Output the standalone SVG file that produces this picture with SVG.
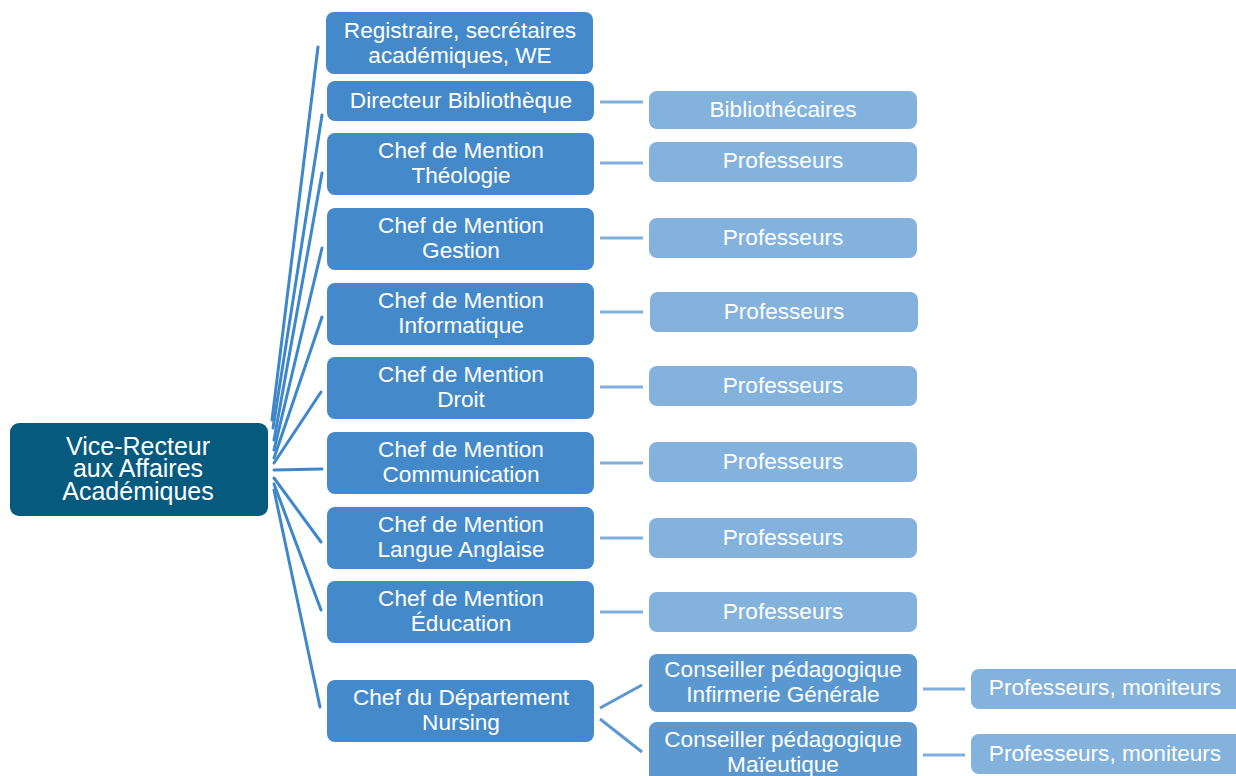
<svg xmlns="http://www.w3.org/2000/svg" width="1236" height="776" viewBox="0 0 1236 776">
<style>
text{font-family:"Liberation Sans",Arial,sans-serif;font-size:22.6px;fill:#fff;text-anchor:middle}
.big{font-size:25px}
.root{fill:#065a7e}
.l1{fill:#448aca}
.l2{fill:#83b2dd}
.cs{fill:#5a98cf}
.fan{stroke:#3f87cb;stroke-width:3;fill:none;stroke-linecap:round}
.sub{stroke:#7fb0dd;stroke-width:3;fill:none}
.sub2{stroke:#5a98cf;stroke-width:3;fill:none}
</style>
<rect width="1236" height="776" fill="#fff"/>
<g id="connectors">
<line class="fan" x1="272" y1="420" x2="318" y2="47"/>
<line class="fan" x1="273" y1="428" x2="322" y2="115"/>
<line class="fan" x1="274" y1="440" x2="322" y2="173"/>
<line class="fan" x1="274" y1="450" x2="322" y2="248"/>
<line class="fan" x1="274" y1="458" x2="322" y2="317"/>
<line class="fan" x1="274" y1="463" x2="321" y2="392"/>
<line class="fan" x1="274" y1="470" x2="322" y2="469"/>
<line class="fan" x1="274" y1="478" x2="321" y2="542"/>
<line class="fan" x1="274" y1="484" x2="321" y2="610"/>
<line class="fan" x1="274" y1="490" x2="320" y2="707"/>
<line class="sub" x1="600" y1="102" x2="643" y2="102"/>
<line class="sub" x1="600" y1="163" x2="643" y2="163"/>
<line class="sub" x1="600" y1="238" x2="643" y2="238"/>
<line class="sub" x1="600" y1="312" x2="643" y2="312"/>
<line class="sub" x1="600" y1="387" x2="643" y2="387"/>
<line class="sub" x1="600" y1="463" x2="643" y2="463"/>
<line class="sub" x1="600" y1="538" x2="643" y2="538"/>
<line class="sub" x1="600" y1="612" x2="643" y2="612"/>
<line class="sub2" x1="600" y1="708" x2="642" y2="685"/>
<line class="sub2" x1="600" y1="719" x2="642" y2="752"/>
<line class="sub" x1="923" y1="689" x2="965" y2="689"/>
<line class="sub" x1="923" y1="755" x2="965" y2="755"/>
</g>
<g id="n-root"><rect class="root" x="10" y="423" width="258" height="93" rx="9"/>
<text class="big" x="138" y="455">Vice-Recteur</text><text class="big" x="138" y="477">aux Affaires</text><text class="big" x="138" y="500">Académiques</text></g>
<g id="n-registraire"><rect class="l1" x="326" y="12" width="267" height="62" rx="8"/>
<text x="460" y="38">Registraire, secrétaires</text><text x="460" y="63">académiques, WE</text></g>
<g id="n-directeur"><rect class="l1" x="327" y="81" width="267" height="40" rx="8"/>
<text x="461" y="108">Directeur Bibliothèque</text></g>
<g id="n-theologie"><rect class="l1" x="327" y="133" width="267" height="62" rx="8"/>
<text x="461" y="158">Chef de Mention</text><text x="461" y="183">Théologie</text></g>
<g id="n-gestion"><rect class="l1" x="327" y="208" width="267" height="62" rx="8"/>
<text x="461" y="233">Chef de Mention</text><text x="461" y="258">Gestion</text></g>
<g id="n-informatique"><rect class="l1" x="327" y="283" width="267" height="62" rx="8"/>
<text x="461" y="308">Chef de Mention</text><text x="461" y="333">Informatique</text></g>
<g id="n-droit"><rect class="l1" x="327" y="357" width="267" height="62" rx="8"/>
<text x="461" y="382">Chef de Mention</text><text x="461" y="407">Droit</text></g>
<g id="n-communication"><rect class="l1" x="327" y="432" width="267" height="62" rx="8"/>
<text x="461" y="457">Chef de Mention</text><text x="461" y="482">Communication</text></g>
<g id="n-langue"><rect class="l1" x="327" y="507" width="267" height="62" rx="8"/>
<text x="461" y="532">Chef de Mention</text><text x="461" y="557">Langue Anglaise</text></g>
<g id="n-education"><rect class="l1" x="327" y="581" width="267" height="62" rx="8"/>
<text x="461" y="606">Chef de Mention</text><text x="461" y="631">Éducation</text></g>
<g id="n-nursing"><rect class="l1" x="327" y="680" width="267" height="62" rx="8"/>
<text x="461" y="705">Chef du Département</text><text x="461" y="730">Nursing</text></g>
<g id="n-bibliothecaires"><rect class="l2" x="649" y="91" width="268" height="38" rx="8"/>
<text x="783" y="117">Bibliothécaires</text></g>
<g id="n-prof-theo"><rect class="l2" x="649" y="142" width="268" height="40" rx="8"/>
<text x="783" y="168">Professeurs</text></g>
<g id="n-prof-gest"><rect class="l2" x="649" y="218" width="268" height="40" rx="8"/>
<text x="783" y="245">Professeurs</text></g>
<g id="n-prof-info"><rect class="l2" x="650" y="292" width="268" height="40" rx="8"/>
<text x="784" y="319">Professeurs</text></g>
<g id="n-prof-droit"><rect class="l2" x="649" y="366" width="268" height="40" rx="8"/>
<text x="783" y="393">Professeurs</text></g>
<g id="n-prof-comm"><rect class="l2" x="649" y="442" width="268" height="40" rx="8"/>
<text x="783" y="469">Professeurs</text></g>
<g id="n-prof-langue"><rect class="l2" x="649" y="518" width="268" height="40" rx="8"/>
<text x="783" y="545">Professeurs</text></g>
<g id="n-prof-edu"><rect class="l2" x="649" y="592" width="268" height="40" rx="8"/>
<text x="783" y="619">Professeurs</text></g>
<g id="n-conseiller-ig"><rect class="cs" x="649" y="654" width="268" height="58" rx="8"/>
<text x="783" y="677">Conseiller pédagogique</text><text x="783" y="702">Infirmerie Générale</text></g>
<g id="n-conseiller-mai"><rect class="cs" x="649" y="722" width="268" height="66" rx="8"/>
<text x="783" y="747">Conseiller pédagogique</text><text x="783" y="772">Maïeutique</text></g>
<g id="n-prof-mon-1"><rect class="l2" x="971" y="669" width="275" height="40" rx="8"/>
<text x="1105" y="695">Professeurs, moniteurs</text></g>
<g id="n-prof-mon-2"><rect class="l2" x="971" y="734" width="275" height="40" rx="8"/>
<text x="1105" y="761">Professeurs, moniteurs</text></g>
</svg>
